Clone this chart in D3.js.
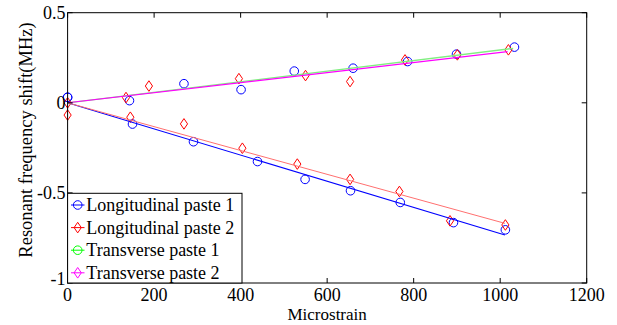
<!DOCTYPE html>
<html>
<head>
<meta charset="utf-8">
<script src="https://cdn.jsdelivr.net/npm/d3@7"></script>
<style>
body { margin: 0; background: #fff; }
svg { display: block; }
</style>
</head>
<body>
<svg id="chart" width="617" height="325"></svg>
<script>
// series (microstrain, MHz)
var seriesNames = ["Longitudinal paste 1", "Longitudinal paste 2", "Transverse paste 1", "Transverse paste 2"];

var longPaste1X = [0, 150, 291, 439, 549, 654, 769, 892, 1012];
var longPaste1Y = [0.03, -0.118, -0.216, -0.326, -0.425, -0.488, -0.553, -0.665, -0.705];

var longPaste2X = [0, 145, 269, 404, 531, 653, 767, 884, 1012];
var longPaste2Y = [-0.068, -0.080, -0.117, -0.252, -0.340, -0.425, -0.492, -0.655, -0.678];

var transPaste1X = [0, 143, 269, 401, 524, 660, 786, 899, 1033];
var transPaste1Y = [0.031, 0.012, 0.106, 0.073, 0.176, 0.192, 0.229, 0.270, 0.309];

var transPaste2X = [0, 135, 188, 396, 550, 653, 780, 901, 1019];
var transPaste2Y = [0, 0.029, 0.093, 0.134, 0.151, 0.118, 0.238, 0.266, 0.294];

// linear fits through the origin, end points
var fitEndX = [1011, 1011, 1030, 1017];
var fitEndY = [-0.734, -0.669, 0.302, 0.284];

var xTicks = [0, 200, 400, 600, 800, 1000, 1200];
var yTicks = [-1, -0.5, 0, 0.5];

var FONT = "'Liberation Serif', 'Times New Roman', Times, 'DejaVu Serif', serif";
var FS = 18;
var box = {left: 67.6, right: 586.7, top: 12.7, bottom: 283};

var svg = d3.select("#chart");

var x = d3.scaleLinear().domain([0, 1200]).range([box.left, box.right]);
var y = d3.scaleLinear().domain([-1, 0.5]).range([box.bottom, box.top]);

var styles = [
    {line: "#0000ff", marker: "#0000ff", legend: "#0000ff", shape: "circle", lw: 1.1},
    {line: "#ff7070", marker: "#ff0000", legend: "#ff0000", shape: "diamond", lw: 1},
    {line: "#80ee80", marker: "#0000ff", legend: "#00ff00", shape: "circle", lw: 1.3},
    {line: "#ff00ff", marker: "#ff0000", legend: "#ff00ff", shape: "diamond", lw: 1.1}
];

var data = [
    d3.zip(longPaste1X, longPaste1Y),
    d3.zip(longPaste2X, longPaste2Y),
    d3.zip(transPaste1X, transPaste1Y),
    d3.zip(transPaste2X, transPaste2Y)
];

function markerPath(shape) {
    if (shape == "circle") {
        var p = d3.path();
        p.arc(0, 0, 4.3, 0, 2 * Math.PI);
        return p.toString();
    }
    return "M0,-5.3L3.6,0L0,5.3L-3.6,0Z";
}

function addText(sel, size) {
    return sel.append("text")
        .attr("font-family", FONT)
        .style("font-family", FONT)
        .style("font-size", size + "px")
        .attr("fill", "#000");
}

var line = d3.line().x(function(d) { return x(d[0]); }).y(function(d) { return y(d[1]); });

var plot = svg.append("g");

// markers
data.forEach(function(pts, i) {
    plot.selectAll(".m" + i)
        .data(pts)
        .enter().append("path")
        .attr("class", "m" + i)
        .attr("d", markerPath(styles[i].shape))
        .attr("transform", function(d) { return "translate(" + x(d[0]) + "," + y(d[1]) + ")"; })
        .attr("fill", "none")
        .attr("stroke", styles[i].marker)
        .attr("stroke-width", 1);
});

// fit lines
fitEndX.forEach(function(ex, i) {
    plot.append("path")
        .attr("d", line([[0, 0], [ex, fitEndY[i]]]))
        .attr("fill", "none")
        .attr("stroke", styles[i].line)
        .attr("stroke-width", styles[i].lw);
});

// ticks (inside, all four sides)
var tickLen = 5;
var axes = svg.append("g").attr("stroke", "#000").attr("stroke-width", 1);
xTicks.forEach(function(t) {
    axes.append("line").attr("x1", x(t)).attr("x2", x(t)).attr("y1", box.bottom).attr("y2", box.bottom - tickLen);
    axes.append("line").attr("x1", x(t)).attr("x2", x(t)).attr("y1", box.top).attr("y2", box.top + tickLen);
});
yTicks.forEach(function(t) {
    axes.append("line").attr("x1", box.left).attr("x2", box.left + tickLen).attr("y1", y(t)).attr("y2", y(t));
    axes.append("line").attr("x1", box.right).attr("x2", box.right - tickLen).attr("y1", y(t)).attr("y2", y(t));
});
axes.append("rect")
    .attr("x", box.left).attr("y", box.top)
    .attr("width", box.right - box.left).attr("height", box.bottom - box.top)
    .attr("fill", "none");

// tick labels
xTicks.forEach(function(t) {
    addText(svg, FS)
        .attr("x", x(t))
        .attr("y", 300.5)
        .attr("text-anchor", "middle")
        .text(t);
});
yTicks.forEach(function(t) {
    addText(svg, FS)
        .attr("x", box.left - 2)
        .attr("y", y(t) + (t == -1 ? 1.5 : 6.3))
        .attr("text-anchor", "end")
        .text(t);
});

// axis titles
addText(svg, 17)
    .attr("x", (box.left + box.right) / 2)
    .attr("y", 320)
    .attr("text-anchor", "middle")
    .text("Microstrain");

addText(svg, 18.5)
    .attr("transform", "translate(31.5,140) rotate(-90)")
    .attr("text-anchor", "middle")
    .text("Resonant frequency shift(MHz)");

// legend
var lg = svg.append("g");
lg.append("rect")
    .attr("x", box.left).attr("y", 193.3)
    .attr("width", 242 - box.left).attr("height", box.bottom - 193.3)
    .attr("fill", "#fff").attr("stroke", "#000").attr("stroke-width", 1);

seriesNames.forEach(function(name, i) {
    var cy = 205 + i * 22.6;
    lg.append("line")
        .attr("x1", 71).attr("x2", 84.5).attr("y1", cy).attr("y2", cy)
        .attr("stroke", styles[i].legend)
        .attr("stroke-width", 1);
    lg.append("path")
        .attr("d", markerPath(styles[i].shape))
        .attr("transform", "translate(77.7," + cy + ")")
        .attr("fill", "none")
        .attr("stroke", styles[i].legend);
    addText(lg, FS)
        .attr("x", 86.3)
        .attr("y", cy + 6)
        .text(name);
});
</script>
</body>
</html>
